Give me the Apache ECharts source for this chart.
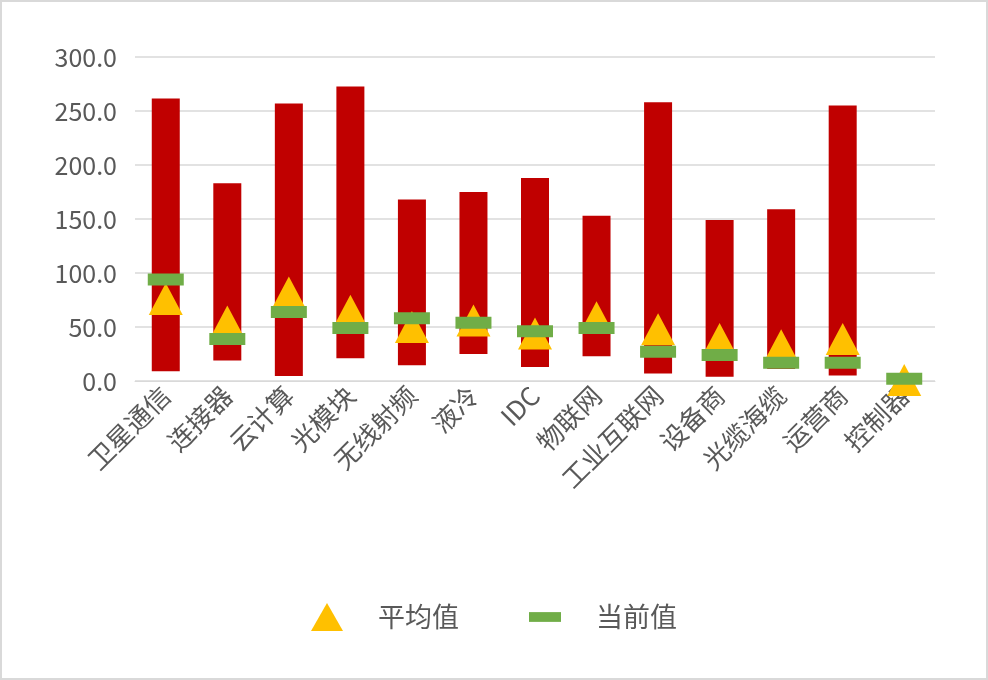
<!DOCTYPE html>
<html><head><meta charset="utf-8">
<script src="https://cdn.jsdelivr.net/npm/echarts@6/dist/echarts.min.js"></script>
<style>html,body{margin:0;padding:0;background:#fff}#c{width:988px;height:680px;box-sizing:border-box;border:2px solid #d9d9d9}</style>
</head><body><div id="c"></div>
<script>
const categories=['卫星通信','连接器','云计算','光模块','无线射频','液冷','IDC','物联网','工业互联网','设备商','光缆海缆','运营商','控制器'];
const maxVals=[261.6,183,257,272.6,168,175,188,153,258,149,159,255,4];
const minVals=[9,19,4.6,21,14.6,25,13,23,7,4,11,5,0];
const avgVals=[76,55,82,65,50,56,44,59,48,39,33,39,1];
const curVals=[94,39,64,49,58,54,46,49,27,24,17,17,2];
const yTicks=[0,50,100,150,200,250,300];
const chart=echarts.init(document.getElementById('c'));
const font='"Noto Sans CJK SC", sans-serif';
chart.setOption({
animation:false,
textStyle:{fontFamily:font},
grid:{left:133,right:51,top:55,bottom:297,containLabel:false},
legend:{bottom:42,left:'center',itemGap:70,itemWidth:32,itemHeight:28,
 textStyle:{fontSize:27,color:'#595959',fontFamily:font,padding:[0,0,0,30]},
 data:[{name:'平均值',icon:'triangle'},{name:'当前值',icon:'path://M0,0H36V11H0Z'}]},
xAxis:{type:'category',data:categories,
 axisLine:{lineStyle:{color:'#d9d9d9'}},axisTick:{show:false},
 axisLabel:{rotate:45,fontSize:26,color:'#595959',interval:0,margin:10}},
yAxis:{type:'value',min:0,max:300,interval:50,
 axisLine:{show:false},axisTick:{show:false},
 splitLine:{lineStyle:{color:'#d9d9d9',width:1.5}},
 axisLabel:{fontSize:25,color:'#595959',margin:18,formatter:v=>v.toFixed(1)}},
series:[
 {type:'bar',stack:'r',data:minVals,itemStyle:{color:'transparent'},barWidth:28,silent:true},
 {type:'bar',stack:'r',data:maxVals.map((v,i)=>+(v-minVals[i]).toFixed(2)),itemStyle:{color:'#C00000'},barWidth:28},
 {name:'平均值',type:'scatter',data:avgVals,symbol:'triangle',symbolSize:[34,32],itemStyle:{color:'#FFC000',opacity:1},z:5},
 {name:'当前值',type:'scatter',data:curVals,symbol:'rect',symbolSize:[36,12],itemStyle:{color:'#70AD47',opacity:1},z:6}
]});
</script></body></html>
